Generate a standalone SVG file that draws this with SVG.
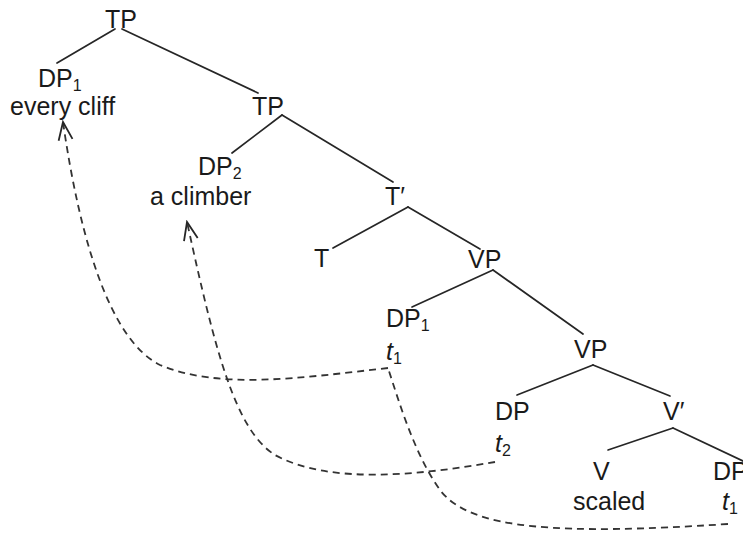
<svg xmlns="http://www.w3.org/2000/svg" width="743" height="538" viewBox="0 0 743 538">
<style>
  text { font-family: "Liberation Sans", Arial, sans-serif; font-size: 25px; fill: #1a1a1a; }
  .sub { font-size: 16px; }
  .it { font-style: italic; }
  .edge { stroke: #262626; stroke-width: 1.7; fill: none; stroke-linecap: round; }
  .move { stroke: #333; stroke-width: 1.8; fill: none; stroke-dasharray: 7 5; }
</style>
<defs>
  <marker id="openArrow" viewBox="-20 -10 22 20" refX="0" refY="0" markerWidth="22" markerHeight="20" markerUnits="userSpaceOnUse" orient="auto">
    <path d="M-18,-7 L0,0 L-18,7" fill="none" stroke="#262626" stroke-width="1.8"/>
  </marker>
</defs>
<rect width="743" height="538" fill="#fff"/>
<g id="connectors">
  <line class="edge" x1="115" y1="29" x2="57" y2="63"/>
  <line class="edge" x1="122" y1="29" x2="258" y2="93"/>
  <line class="edge" x1="282" y1="115" x2="232" y2="153"/>
  <line class="edge" x1="282" y1="115" x2="393" y2="182"/>
  <line class="edge" x1="408" y1="207" x2="333" y2="248"/>
  <line class="edge" x1="408" y1="207" x2="480" y2="249"/>
  <line class="edge" x1="493" y1="270" x2="412" y2="307"/>
  <line class="edge" x1="493" y1="270" x2="583" y2="334"/>
  <line class="edge" x1="593" y1="365" x2="517" y2="395"/>
  <line class="edge" x1="593" y1="365" x2="670" y2="396"/>
  <line class="edge" x1="673" y1="428" x2="608" y2="450"/>
  <line class="edge" x1="673" y1="428" x2="745" y2="462"/>
  <path class="move" d="M728,524 C560,535 470,530 440,490 C415,455 400,405 388,368"/>
  <path class="move" d="M388,368 C300,378 220,390 160,365 C110,340 80,240 63,122" marker-end="url(#openArrow)"/>
  <path class="move" d="M495,462 C420,475 330,485 275,455 C235,430 215,350 187,222" marker-end="url(#openArrow)"/>
</g>
<g id="TP-root"><text x="105" y="28">TP</text></g>
<g id="DP1-top"><text x="38" y="87">DP<tspan class="sub" dy="4">1</tspan></text><text x="10" y="115">every cliff</text></g>
<g id="TP-2"><text x="252" y="115">TP</text></g>
<g id="DP2"><text x="198" y="175">DP<tspan class="sub" dy="4">2</tspan></text><text x="150" y="205">a climber</text></g>
<g id="Tbar"><text x="385" y="205">T′</text></g>
<g id="T"><text x="314" y="267">T</text></g>
<g id="VP-1"><text x="468" y="268">VP</text></g>
<g id="DP1-trace"><text x="386" y="327">DP<tspan class="sub" dy="4">1</tspan></text><text x="386" y="360"><tspan class="it">t</tspan><tspan class="sub" dy="4">1</tspan></text></g>
<g id="VP-2"><text x="574" y="358">VP</text></g>
<g id="DP-t2"><text x="495" y="420">DP</text><text x="495" y="452"><tspan class="it">t</tspan><tspan class="sub" dy="4">2</tspan></text></g>
<g id="Vbar"><text x="663" y="420">V′</text></g>
<g id="V"><text x="593" y="480">V</text><text x="573" y="510">scaled</text></g>
<g id="DP-t1"><text x="713" y="480">DP</text><text x="722" y="510"><tspan class="it">t</tspan><tspan class="sub" dy="4">1</tspan></text></g>
</svg>
